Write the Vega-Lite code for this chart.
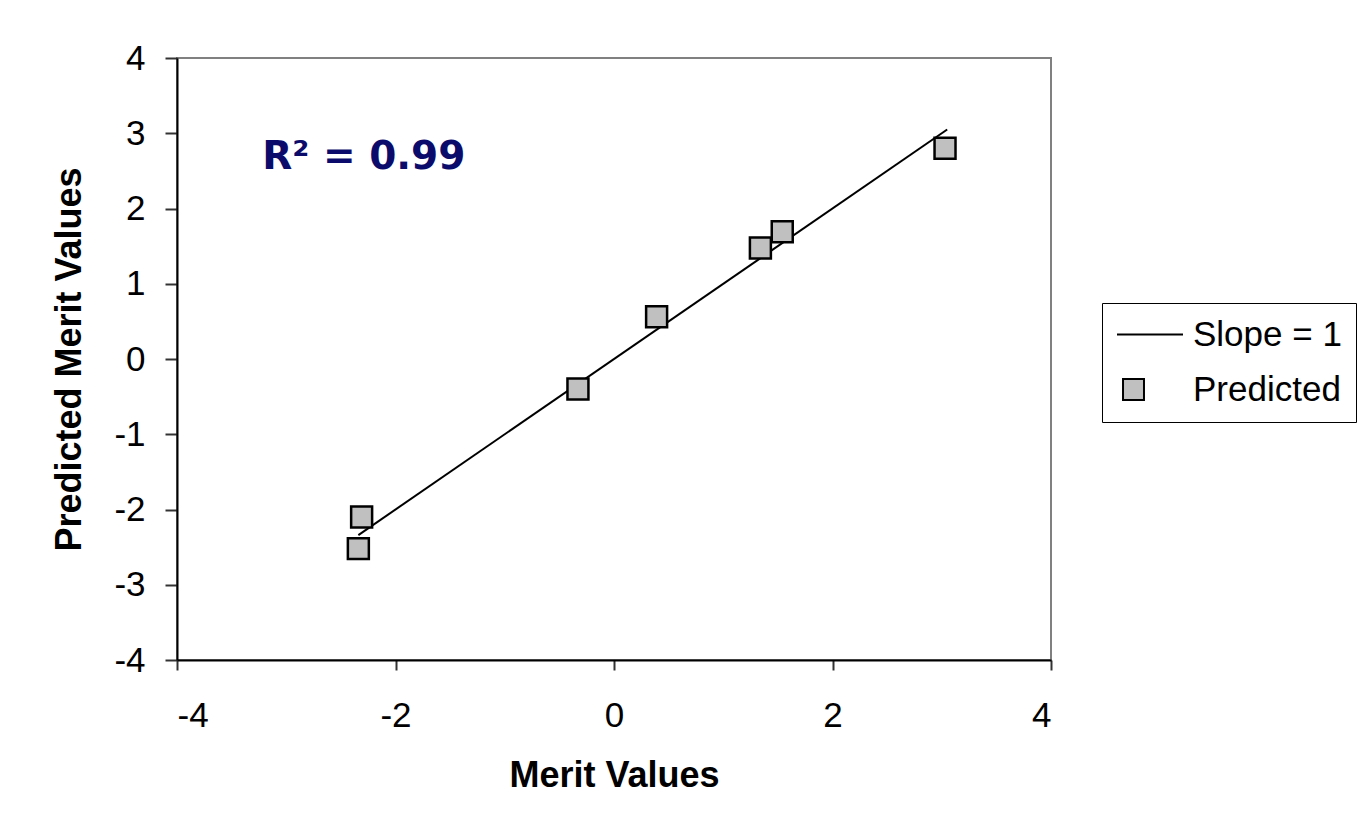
{
  "$schema": "https://vega.github.io/schema/vega-lite/v6.json",
  "width": 874,
  "height": 602,
  "autosize": {"type": "none"},
  "padding": {"left": 177, "top": 58, "right": 306, "bottom": 166},
  "background": "white",
  "config": {
    "view": {"stroke": "#808080", "strokeWidth": 2},
    "font": "Liberation Sans",
    "axis": {
      "grid": false,
      "domainColor": "black",
      "domainWidth": 2,
      "tickColor": "#333333",
      "tickWidth": 2,
      "labelFont": "Liberation Sans",
      "labelFontSize": 35,
      "labelColor": "black",
      "titleFont": "Liberation Sans",
      "titleFontSize": 36,
      "titleFontWeight": "bold",
      "titleColor": "black"
    }
  },
  "datasets": {
    "fit": [
      {"x": -2.34, "y": -2.34, "series": "Slope = 1"},
      {"x": 3.05, "y": 3.05, "series": "Slope = 1"}
    ],
    "pred": [
      {"x": 3.03, "y": 2.8, "series": "Predicted"},
      {"x": 1.54, "y": 1.69, "series": "Predicted"},
      {"x": 1.34, "y": 1.475, "series": "Predicted"},
      {"x": 0.39, "y": 0.56, "series": "Predicted"},
      {"x": -0.33, "y": -0.4, "series": "Predicted"},
      {"x": -2.31, "y": -2.1, "series": "Predicted"},
      {"x": -2.34, "y": -2.52, "series": "Predicted"}
    ],
    "note": [{"x": -3.22, "y": 2.52, "label": "R² = 0.99"}]
  },
  "layer": [
    {
      "data": {"name": "fit"},
      "mark": {"type": "line", "color": "black", "strokeWidth": 2},
      "encoding": {
        "x": {
          "field": "x", "type": "quantitative",
          "scale": {"domain": [-4, 4], "nice": false, "zero": false},
          "axis": {"title": "Merit Values", "values": [-4, -2, 0, 2, 4], "tickSize": 10, "labelPadding": 28, "titlePadding": 25, "labelExpr": "'' + datum.value"}
        },
        "y": {
          "field": "y", "type": "quantitative",
          "scale": {"domain": [-4, 4], "nice": false, "zero": false},
          "axis": {"title": "Predicted Merit Values", "values": [-4, -3, -2, -1, 0, 1, 2, 3, 4], "tickSize": 12, "labelPadding": 20, "titlePadding": 25, "labelExpr": "'' + datum.value"}
        }
      }
    },
    {
      "data": {"name": "pred"},
      "mark": {"type": "point", "filled": true, "fill": "#c0c0c0", "strokeWidth": 2.5, "opacity": 1},
      "encoding": {
        "x": {"field": "x", "type": "quantitative"},
        "y": {"field": "y", "type": "quantitative"},
        "size": {
          "field": "series", "type": "ordinal",
          "scale": {"domain": ["Slope = 1", "Predicted"], "range": [1089, 440]}
        },
        "stroke": {
          "field": "series", "type": "nominal",
          "scale": {"domain": ["Slope = 1", "Predicted"], "range": ["black", "black"]}
        },
        "shape": {
          "field": "series", "type": "nominal",
          "scale": {"domain": ["Slope = 1", "Predicted"], "range": ["M-1,0H3", "square"]},
          "legend": {
            "orient": "none",
            "legendX": 925,
            "legendY": 245,
            "title": null,
            "strokeColor": "black",
            "fillColor": "white",
            "padding": 14,
            "labelFont": "Liberation Sans",
            "labelFontSize": 35,
            "labelColor": "black",
            "labelOffset": 42,
            "symbolStrokeWidth": 2,
            "symbolStrokeColor": "black",
            "symbolFillColor": "#c0c0c0",
            "symbolOpacity": 1,
            "rowPadding": 19
          }
        }
      }
    },
    {
      "data": {"name": "note"},
      "mark": {"type": "text", "font": "DejaVu Sans", "fontWeight": "bold", "fontSize": 39, "color": "#0b0b6b", "align": "left", "baseline": "alphabetic"},
      "encoding": {
        "x": {"field": "x", "type": "quantitative"},
        "y": {"field": "y", "type": "quantitative"},
        "text": {"field": "label"}
      }
    }
  ]
}
